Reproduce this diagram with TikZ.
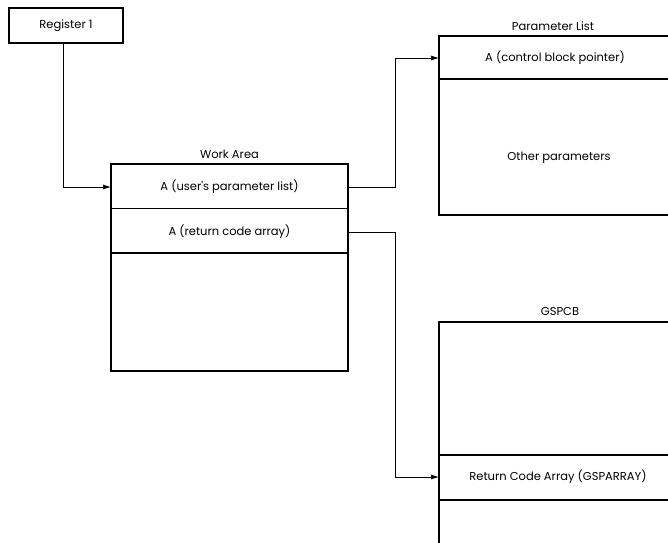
\documentclass[tikz,border=0pt]{standalone}
\usepackage{fontspec}
\setmainfont{Poppins}
\usetikzlibrary{arrows.meta}
\begin{document}
\begin{tikzpicture}[x=1pt,y=-1pt,
  box/.style={draw,line width=1.1pt},
  lbl/.style={font=\fontsize{11.5}{13}\selectfont,inner sep=0pt},
  conn/.style={line width=0.7pt,-{Latex[length=8pt,width=5pt]}}]
\useasboundingbox (0,0) rectangle (668,542);
% Register 1
\node[box,minimum width=114pt,minimum height=35pt,inner sep=0pt,lbl] (reg) at (66,25.5) {Register 1};
% Work area
\draw[box] (111,164) rectangle (348,371);
\draw[box] (111,208.5) -- (348,208.5);
\draw[box] (111,253) -- (348,253);
\node[lbl] (watitle) at (229.5,154) {Work Area};
\node[lbl] (wa1) at (229.5,187) {A (user\textquotesingle s parameter list)};
\node[lbl] (wa2) at (229.5,232) {A (return code array)};
\coordinate (wa1L) at (111,187);
\coordinate (wa1R) at (348,187);
\coordinate (wa2R) at (348,232);
% Parameter list
\draw[box] (672,36) -- (439,36) -- (439,215) -- (672,215);
\draw[box] (439,79) -- (672,79);
\node[lbl] (pltitle) at (553,26) {Parameter List};
\node[lbl] (pl1) at (555,58) {A (control block pointer)};
\node[lbl] (pl2) at (559,158) {Other parameters};
\coordinate (pl1L) at (439,58);
% GSPCB
\draw[box] (672,322) -- (439,322) -- (439,546);
\draw[box] (439,455) -- (672,455);
\draw[box] (439,500) -- (672,500);
\node[lbl] (gtitle) at (560,311) {GSPCB};
\node[lbl] (g1) at (558,477) {Return Code Array (GSPARRAY)};
\coordinate (g1L) at (439,477);
% connectors
\draw[conn] (reg.south -| 63,0) |- (wa1L);
\draw[conn] (wa1R) -- (395,187) |- (pl1L);
\draw[conn] (wa2R) -- (395,232) |- (g1L);
\end{tikzpicture}
\end{document}
